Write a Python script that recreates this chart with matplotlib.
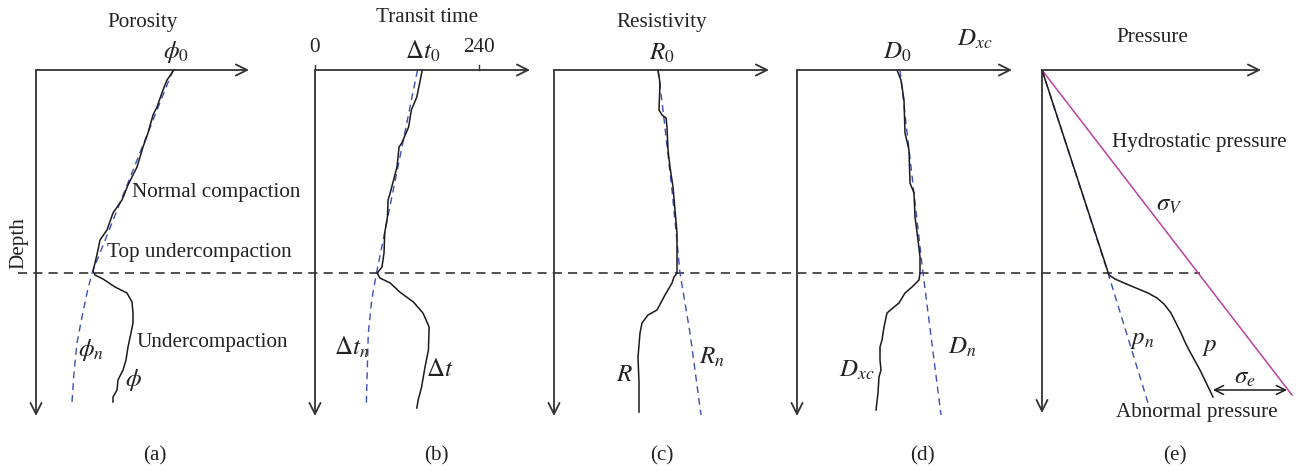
import matplotlib
matplotlib.use("Agg")
import matplotlib.pyplot as plt

# ---------------------------------------------------------------------------
# Read-off data (depth in m-like units, 0 = top axis; values in panel units)
# ---------------------------------------------------------------------------
TOP_UNDER = 2030  # depth of top undercompaction (dashed line)

# (a) porosity
a_depth = [0, 100, 200, 370, 450, 630, 770, 970, 1150, 1300, 1430, 1600, 1700,
           1800, 1930, 2010, 2050, 2090, 2170, 2230, 2320, 2430, 2530, 2630,
           2770, 2900, 3000, 3100, 3200, 3270, 3320]
a_phi = [138, 131, 127, 121, 117, 112, 107, 101, 92, 86, 77, 71, 64,
         62, 59, 57, 59, 67, 79, 91, 96, 97, 97, 95,
         92, 90, 87, 82, 81, 77, 77]
a_n_depth = [0, 2030, 2230, 2470, 2730, 3030, 3320]
a_n_phi = [137, 56, 51, 46, 41, 38, 36]

# (b) transit time (us/ft)
b_depth = [0, 270, 400, 570, 730, 770, 970, 1100, 1230, 1300, 1470, 1630,
           1830, 1970, 2030, 2080, 2130, 2220, 2320, 2430, 2570, 2800, 2970,
           3170, 3300, 3380]
b_dt = [157, 149, 141, 137, 127, 123, 120, 115, 110, 107, 106, 102,
        101, 98, 91, 95, 110, 124, 144, 158, 167, 166, 161,
        156, 151, 149]
b_n_depth = [0, 2030, 2300, 2630, 3370]
b_n_dt = [150, 90, 83, 78, 75]
b_ticks = [0, 240]

# (c) resistivity
c_depth = [0, 130, 400, 450, 480, 570, 800, 970, 1170, 1400, 1630, 1830,
           2030, 2070, 2130, 2250, 2400, 2450, 2530, 2630, 2870, 3130, 3420]
c_res = [104, 106, 105, 108, 112, 113, 114, 116, 119, 121, 123, 123,
         123, 120, 118, 111, 103, 94, 88, 86, 84, 85, 85]
c_n_depth = [0, 400, 1200, 2030, 2630, 3450]
c_n_res = [104, 109, 118, 126, 136, 147]

# (d) corrected d-exponent
d_depth = [0, 100, 300, 630, 800, 1130, 1230, 1470, 1700, 1870, 2030, 2100,
           2170, 2230, 2330, 2370, 2430, 2570, 2700, 2770, 2900, 3000, 3070,
           3230, 3400]
d_dxc = [100, 104, 107, 108, 112, 113, 117, 118, 121, 123, 123, 122,
         115, 108, 102, 97, 90, 87, 85, 83, 83, 84, 82,
         81, 79]
d_n_depth = [0, 2030, 3450]
d_n_dxc = [103, 126, 144]

# (e) pressure
e_depth = [0, 2050, 2090, 2130, 2180, 2230, 2280, 2340, 2430, 2530, 2630,
           2720, 2800, 3000, 3270]
e_p = [0, 67, 73, 82, 94, 106, 115, 122, 129, 134, 139, 143, 147, 158, 171]
e_n_depth = [0, 2030, 3330]
e_n_p = [0, 66, 106]
e_sv_depth = [0, 3250]
e_sv = [0, 250]
e_sigma_e = [171, 245]   # effective stress arrow span
e_sigma_e_depth = 3200

# ---------------------------------------------------------------------------
# Styling
# ---------------------------------------------------------------------------
plt.rcParams["font.family"] = ["Liberation Serif", "DejaVu Serif"]
plt.rcParams["mathtext.fontset"] = "stix"

FS = 15.2
MFS = 18
AXC = "#333333"
CURVE = "#1a1a1a"
BLUE = "#3f4fb5"
MAGENTA = "#b8409f"
W, H = 1298, 471

fig = plt.figure(figsize=(W / 100, H / 100), dpi=100)


def panel(x0_px, scale, width_px=250):
    """Transparent axes whose origin sits at x0_px; depth axis shared."""
    ax = fig.add_axes([x0_px / W, 0, width_px / W, 1])
    ax.set_xlim(0, width_px * scale)
    ax.set_ylim((H - 70) * 10, -70 * 10)
    ax.axis("off")
    return ax


def frame(ax, xend, yend):
    kw = dict(arrowstyle="->", color=AXC, lw=1.3, shrinkA=0, shrinkB=0,
              mutation_scale=20)
    ax.annotate("", xy=(xend, 0), xytext=(0, 0), arrowprops=kw,
                annotation_clip=False)
    ax.annotate("", xy=(0, yend), xytext=(0, 0), arrowprops=kw,
                annotation_clip=False)


def txt(ax, x, y, s, **kw):
    kw.setdefault("ha", "center")
    kw.setdefault("va", "center")
    ax.text(x, y, s, fontsize=kw.pop("fs", FS), color="#222222",
            clip_on=False, **kw)


line_kw = dict(color=CURVE, lw=1.1, clip_on=False)
dash_kw = dict(color=BLUE, lw=1.0, ls=(0, (5, 3.5)), clip_on=False)

# ---- (a) -------------------------------------------------------------------
ax = panel(36, 1.0)
frame(ax, 213, 3460)
ax.plot(a_n_phi, a_n_depth, **dash_kw)
ax.plot(a_phi, a_depth, **line_kw)
ax.plot([-18, 1164], [TOP_UNDER, TOP_UNDER], color="#222222", lw=1.1,
        ls=(0, (6, 4)), clip_on=False)
txt(ax, 107, -480, "Porosity")
txt(ax, 140, -180, r"$\phi_0$", fs=MFS)
txt(ax, -17, 1730, "Depth", rotation=90)
txt(ax, 96, 1220, "Normal compaction", ha="left")
txt(ax, 71, 1830, "Top undercompaction", ha="left")
txt(ax, 101, 2730, "Undercompaction", ha="left")
txt(ax, 55, 2800, r"$\phi_n$", fs=MFS)
txt(ax, 97, 3100, r"$\phi$", fs=MFS)
txt(ax, 119, 3860, "(a)")

# ---- (b) -------------------------------------------------------------------
sb = 240 / 164
ax = panel(315, sb)
frame(ax, 215 * sb, 3460)
for t in b_ticks:
    ax.plot([t, t], [0, -50], color=AXC, lw=1.0, clip_on=False)
    txt(ax, t, -220, str(t))
ax.plot(b_n_dt, b_n_depth, **dash_kw)
ax.plot(b_dt, b_depth, **line_kw)
txt(ax, 164, -530, "Transit time")
txt(ax, 157, -190, r"$\Delta t_0$", fs=MFS)
txt(ax, 54, 2770, r"$\Delta t_n$", fs=MFS)
txt(ax, 182, 3000, r"$\Delta t$", fs=MFS)
txt(ax, 178, 3860, "(b)")

# ---- (c) -------------------------------------------------------------------
ax = panel(554, 1.0)
frame(ax, 215, 3460)
ax.plot(c_n_res, c_n_depth, **dash_kw)
ax.plot(c_res, c_depth, **line_kw)
txt(ax, 108, -480, "Resistivity")
txt(ax, 108, -170, r"$R_0$", fs=MFS)
txt(ax, 71, 3050, r"$R$", fs=MFS)
txt(ax, 158, 2870, r"$R_n$", fs=MFS)
txt(ax, 108, 3860, "(c)")

# ---- (d) -------------------------------------------------------------------
ax = panel(797, 1.0)
frame(ax, 215, 3460)
ax.plot(d_n_dxc, d_n_depth, **dash_kw)
ax.plot(d_dxc, d_depth, **line_kw)
txt(ax, 178, -310, r"$D_{xc}$", fs=MFS)
txt(ax, 100, -180, r"$D_0$", fs=MFS)
txt(ax, 60, 3000, r"$D_{xc}$", fs=MFS)
txt(ax, 165, 2770, r"$D_n$", fs=MFS)
txt(ax, 125, 3860, "(d)")

# ---- (e) -------------------------------------------------------------------
ax = panel(1042, 1.0)
frame(ax, 219, 3430)
ax.plot(e_sv, e_sv_depth, color=MAGENTA, lw=1.1, clip_on=False)
ax.plot(e_n_p, e_n_depth, **dash_kw)
ax.plot(e_p, e_depth, **line_kw)
ax.annotate("", xy=(e_sigma_e[1], e_sigma_e_depth),
            xytext=(e_sigma_e[0], e_sigma_e_depth),
            arrowprops=dict(arrowstyle="<->", color=CURVE, lw=1.1,
                            shrinkA=0, shrinkB=0, mutation_scale=16),
            annotation_clip=False)
txt(ax, 110, -330, "Pressure")
txt(ax, 157, 720, "Hydrostatic pressure")
txt(ax, 127, 1350, r"$\sigma_V$", fs=MFS)
txt(ax, 100, 2700, r"$p_n$", fs=MFS)
txt(ax, 168, 2770, r"$p$", fs=MFS)
txt(ax, 203, 3080, r"$\sigma_e$", fs=MFS)
txt(ax, 155, 3430, "Abnormal pressure")
txt(ax, 133, 3860, "(e)")

fig.savefig("out.png", dpi=100)
